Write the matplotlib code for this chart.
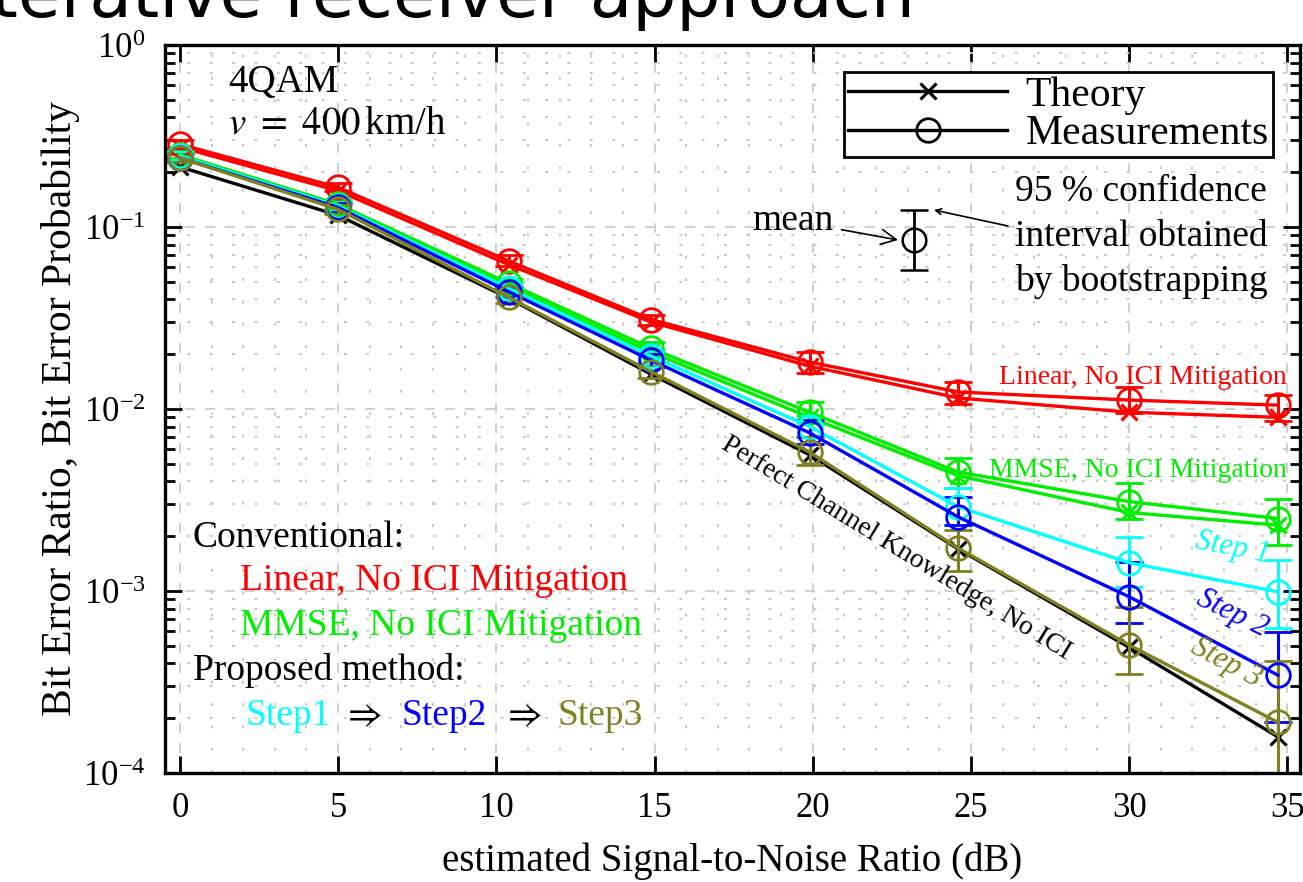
import matplotlib
matplotlib.use("Agg")
import matplotlib.pyplot as plt
import numpy as np
from matplotlib.lines import Line2D
from matplotlib.ticker import LogLocator, MultipleLocator, NullFormatter

plt.rcParams['font.family'] = ['Liberation Serif', 'DejaVu Serif']
plt.rcParams['mathtext.fontset'] = 'stix'

# estimated SNR (dB) of each measurement point
snr = [0, 5, 10.4, 14.9, 19.9, 24.6, 30.0, 34.7]

# perfect channel knowledge, no ICI (theory only)
perfect_theory = [0.214, 0.116, 0.0405, 0.0155, 0.0056, 0.0017, 0.00049, 0.000158]

# conventional linear receiver, no ICI mitigation
linear_theory = [0.275, 0.158, 0.062, 0.030, 0.0172, 0.0115, 0.0096, 0.0090]
linear_meas = [0.285, 0.165, 0.065, 0.031, 0.0181, 0.0124, 0.0112, 0.0105]
linear_lo = [0.272, 0.157, 0.061, 0.029, 0.0158, 0.0107, 0.0095, 0.0086]
linear_hi = [0.300, 0.175, 0.070, 0.033, 0.0206, 0.0141, 0.0132, 0.0120]

# conventional MMSE receiver, no ICI mitigation
mmse_theory = [0.240, 0.128, 0.047, 0.0205, 0.0090, 0.0043, 0.0027, 0.0023]
mmse_meas = [0.250, 0.133, 0.049, 0.0215, 0.0096, 0.0045, 0.0031, 0.0025]
mmse_lo = [0.238, 0.126, 0.046, 0.0200, 0.0085, 0.0037, 0.0025, 0.0018]
mmse_hi = [0.262, 0.140, 0.052, 0.0232, 0.0109, 0.0054, 0.0039, 0.0032]

# proposed iterative receiver, steps 1..3
step1_meas = [0.245, 0.130, 0.046, 0.0195, 0.0080, 0.0029, 0.00143, 0.00099]
step1_lo = [0.233, 0.123, 0.043, 0.0180, 0.0070, 0.0023, 0.00105, 0.00063]
step1_hi = [0.257, 0.137, 0.049, 0.0210, 0.0092, 0.0037, 0.00198, 0.00148]

step2_meas = [0.240, 0.128, 0.044, 0.0185, 0.0074, 0.00255, 0.00093, 0.000345]
step2_lo = [0.228, 0.121, 0.041, 0.0170, 0.0064, 0.00231, 0.000667, 0.00019]
step2_hi = [0.252, 0.135, 0.047, 0.0200, 0.0087, 0.00328, 0.00144, 0.000596]

step3_meas = [0.240, 0.125, 0.041, 0.0160, 0.0058, 0.00172, 0.000505, 0.00019]
step3_lo = [0.228, 0.118, 0.038, 0.0148, 0.0049, 0.00129, 0.00035, 0.00005]
step3_hi = [0.252, 0.132, 0.044, 0.0173, 0.0070, 0.00215, 0.000817, 0.00041]

# example point explaining the error bars
demo_x = [23.2]
demo_mean = [0.085]
demo_lo = [0.058]
demo_hi = [0.124]

olive = '#808020'
green = '#00ee00'

fig = plt.figure(figsize=(13.03, 8.82), dpi=100)
ax = fig.add_axes([165 / 1303, 1 - 773 / 882, 1135 / 1303, 728 / 882])

lw = 2.4
ms_o = 17
ms_x = 12


def meas(x, y, lo, hi, color):
    y = np.array(y)
    err = [y - np.array(lo), np.array(hi) - y]
    ax.errorbar(x, y, yerr=err, color=color, lw=lw, marker='o', ms=ms_o,
                mfc='none', mew=2, capsize=10, capthick=2.2, elinewidth=2.2)


def theory(x, y, color):
    ax.plot(x, y, color=color, lw=lw, marker='x', ms=ms_x, mew=2.2)


theory(snr, perfect_theory, 'black')
theory(snr, linear_theory, 'red')
meas(snr, linear_meas, linear_lo, linear_hi, 'red')
theory(snr, mmse_theory, green)
meas(snr, mmse_meas, mmse_lo, mmse_hi, green)
meas(snr, step1_meas, step1_lo, step1_hi, 'cyan')
meas(snr, step2_meas, step2_lo, step2_hi, 'blue')
meas(snr, step3_meas, step3_lo, step3_hi, olive)

# error bar explanation
yd = np.array(demo_mean)
ax.errorbar(demo_x, demo_mean, yerr=[yd - np.array(demo_lo), np.array(demo_hi) - yd],
            color='black', marker='o', ms=ms_o, mfc='none', mew=1.8,
            capsize=10, capthick=2, elinewidth=2)

ax.set_yscale('log')
ax.set_xlim(-0.47, 35.4)
ax.set_ylim(1e-4, 1)
ax.xaxis.set_major_locator(MultipleLocator(5))
ax.xaxis.set_minor_locator(MultipleLocator(1))
ax.yaxis.set_major_locator(LogLocator(base=10, numticks=10))
ax.yaxis.set_minor_locator(LogLocator(base=10, subs=np.arange(2, 10), numticks=10))
ax.yaxis.set_minor_formatter(NullFormatter())

ax.grid(True, which='major', ls=(0, (6, 6)), color='#c8c8c8', lw=1.2)
ax.grid(True, which='minor', ls=(0, (1.5, 10)), color='#c8c8c8', lw=1.4)
ax.set_axisbelow(True)

ax.tick_params(which='both', direction='in', top=True, right=True, width=2)
ax.tick_params(which='major', length=12, labelsize=25, pad=14)
ax.tick_params(which='minor', length=7)
ax.tick_params(axis='x', which='minor', length=0)
for s in ax.spines.values():
    s.set_linewidth(2.4)

ax.set_xlabel('estimated Signal-to-Noise Ratio (dB)', fontsize=28, labelpad=12)
ax.set_ylabel('Bit Error Ratio, Bit Error Probability', fontsize=30, labelpad=2)


def px(x, y):
    return (x - 165) / 1135, (773 - y) / 728


tr = ax.transAxes
ax.text(*px(228, 92), '4QAM', transform=tr, fontsize=28, va='baseline')
ax.text(*px(228, 133), r'$v\ =\ 400\,$km/h', transform=tr, fontsize=28, va='baseline')

# legend: markers only in black
handles = [Line2D([], [], color='black', lw=lw, marker='x', ms=ms_x, mew=2.2),
           Line2D([], [], color='black', lw=lw, marker='o', ms=ms_o, mfc='none', mew=2)]
leg = ax.legend(handles, ['Theory', 'Measurements'], loc='upper right',
                bbox_to_anchor=px(1273, 72), bbox_transform=tr, fontsize=30,
                handlelength=3.8, fancybox=False, framealpha=1, edgecolor='black',
                borderpad=0.1, labelspacing=0.0, handletextpad=0.45, borderaxespad=0)
leg.get_frame().set_linewidth(2)

ci_lines = ['95 % confidence', 'interval obtained', 'by bootstrapping']
for i, line in enumerate(ci_lines):
    ax.text(*px(1015, 201 + 45 * i), line, transform=tr, fontsize=27, va='baseline')
ax.annotate('mean', xy=px(898, 240), xytext=px(752, 230), xycoords=tr, textcoords=tr,
            fontsize=27, va='baseline',
            arrowprops=dict(arrowstyle='->', color='black', lw=1.2, shrinkA=4, shrinkB=0))
ax.annotate('', xy=px(934, 210), xytext=px(1008, 226), xycoords=tr, textcoords=tr,
            arrowprops=dict(arrowstyle='->', color='black', lw=1.2, shrinkA=0, shrinkB=0))

# curve labels
ax.text(*px(1287, 384), 'Linear, No ICI Mitigation', transform=tr, color='red',
        fontsize=20, ha='right', va='baseline')
ax.text(*px(1287, 477), 'MMSE, No ICI Mitigation', transform=tr, color=green,
        fontsize=20, ha='right', va='baseline')
ax.text(*px(1233, 548), 'Step 1', transform=tr, color='cyan', fontsize=22,
        style='italic', rotation=-11, ha='center', va='center')
ax.text(*px(1232, 613), 'Step 2', transform=tr, color='blue', fontsize=22,
        style='italic', rotation=-26, ha='center', va='center')
ax.text(*px(1226, 663), 'Step 3', transform=tr, color=olive, fontsize=22,
        style='italic', rotation=-28, ha='center', va='center')
ax.text(*px(720, 448), 'Perfect Channel Knowledge, No ICI', transform=tr,
        fontsize=20, rotation=-31.5, rotation_mode='anchor', ha='left', va='baseline')

# description block
ax.text(*px(193, 547), 'Conventional:', transform=tr, fontsize=27, va='baseline')
ax.text(*px(240, 590), 'Linear, No ICI Mitigation', transform=tr, fontsize=27,
        color='red', va='baseline')
ax.text(*px(240, 635), 'MMSE, No ICI Mitigation', transform=tr, fontsize=27,
        color=green, va='baseline')
ax.text(*px(193, 680), 'Proposed method:', transform=tr, fontsize=27, va='baseline')
ax.text(*px(245, 725), 'Step1', transform=tr, fontsize=27, color='cyan', va='baseline')
ax.text(*px(342, 725), r'$\Rightarrow$', transform=tr, fontsize=27, va='baseline')
ax.text(*px(402, 725), 'Step2', transform=tr, fontsize=27, color='blue', va='baseline')
ax.text(*px(502, 725), r'$\Rightarrow$', transform=tr, fontsize=27, va='baseline')
ax.text(*px(558, 725), 'Step3', transform=tr, fontsize=27, color=olive, va='baseline')

fig.text(915 / 1303, 1 - 17 / 882, 'Iterative receiver approach', ha='right',
         va='baseline', fontsize=50, family='DejaVu Sans')

fig.savefig('out.png', dpi=100)
